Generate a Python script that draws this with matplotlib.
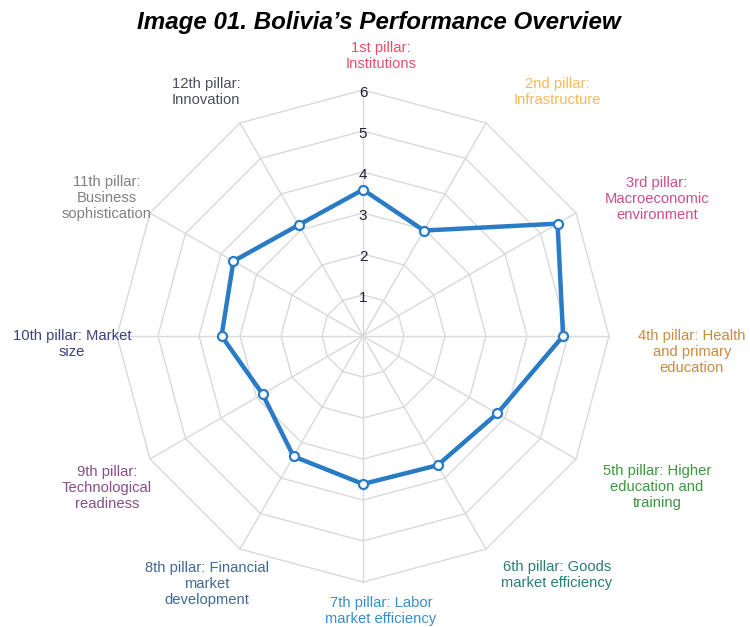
import numpy as np
import matplotlib
matplotlib.use("Agg")
import matplotlib.pyplot as plt

# ---- data ----
pillars = [
    "1st pillar:\nInstitutions",
    "2nd pillar:\nInfrastructure",
    "3rd pillar:\nMacroeconomic\nenvironment",
    "4th pillar: Health\nand primary\neducation",
    "5th pillar: Higher\neducation and\ntraining",
    "6th pillar: Goods\nmarket efficiency",
    "7th pillar: Labor\nmarket efficiency",
    "8th pillar: Financial\nmarket\ndevelopment",
    "9th pillar:\nTechnological\nreadiness",
    "10th pillar: Market\nsize",
    "11th pillar:\nBusiness\nsophistication",
    "12th pillar:\nInnovation",
]
scores = [3.57, 2.97, 5.48, 4.88, 3.78, 3.64, 3.61, 3.39, 2.83, 3.45, 3.65, 3.13]
ticks = [1, 2, 3, 4, 5, 6]
title = "Image 01. Bolivia\u2019s Performance Overview"

# ---- styles / layout ----
label_colors = ["#E5506A", "#F6B85C", "#CF4C89", "#C98B3E", "#3E963E", "#2C7D74",
                "#3A8DC8", "#3E6A98", "#8A4C8E", "#3E3F7E", "#808080", "#4C4D5E"]
# label centres in figure pixels (x from left, y from top)
label_px = [(381, 56), (557, 92), (657, 199), (692, 352), (657, 487), (557, 575),
            (381, 611), (207, 584), (107, 488), (72, 344), (107, 198), (206, 92)]
line_color = "#2A7BC6"
W, H, DPI = 750, 627, 100
CX, CY, UNIT = 363, 336, 41.0

plt.rcParams['font.family'] = ['Liberation Sans', 'DejaVu Sans']
fig = plt.figure(figsize=(W / DPI, H / DPI), dpi=DPI)
ax = fig.add_axes([0, 0, 1, 1])
ax.set_xlim(-CX / UNIT, (W - CX) / UNIT)
ax.set_ylim(-(H - CY) / UNIT, CY / UNIT)
ax.set_aspect('equal')
ax.axis('off')

n = len(pillars)
ang = np.arange(n) * 2 * np.pi / n  # clockwise from top
sx, sy = np.sin(ang), np.cos(ang)
rmax = max(ticks)

# grid rings
for t in ticks:
    xs = np.append(sx * t, sx[0] * t)
    ys = np.append(sy * t, sy[0] * t)
    ax.plot(xs, ys, color="#d9d9d9", lw=1.0, zorder=1)
# spokes
for i in range(n):
    ax.plot([0, sx[i] * rmax], [0, sy[i] * rmax], color="#d9d9d9", lw=1.0, zorder=1)

# tick labels along top spoke
for t in ticks:
    ax.text(0, t - 0.08, str(t), ha='center', va='center', fontsize=11,
            color="#1e2035", zorder=2)

# data polygon
v = np.array(scores)
xs = np.append(sx * v, sx[0] * v[0])
ys = np.append(sy * v, sy[0] * v[0])
ax.plot(xs, ys, color=line_color, lw=3.2, zorder=3, solid_joinstyle='miter')
ax.plot(sx * v, sy * v, ls='none', marker='o', ms=6.5, mfc='white', mec=line_color,
        mew=1.6, zorder=4)

# axis labels
for i, lab in enumerate(pillars):
    px, py = label_px[i]
    ax.text((px - CX) / UNIT, (CY - py) / UNIT, lab, ha='center', va='center',
            fontsize=10.6, color=label_colors[i], linespacing=1.15, multialignment='center')

fig.text(379 / W, 1 - 22 / H, title, ha='center', va='center', fontsize=17.4,
         fontweight='bold', fontstyle='italic', color='black')

fig.savefig("out.png", dpi=DPI)
